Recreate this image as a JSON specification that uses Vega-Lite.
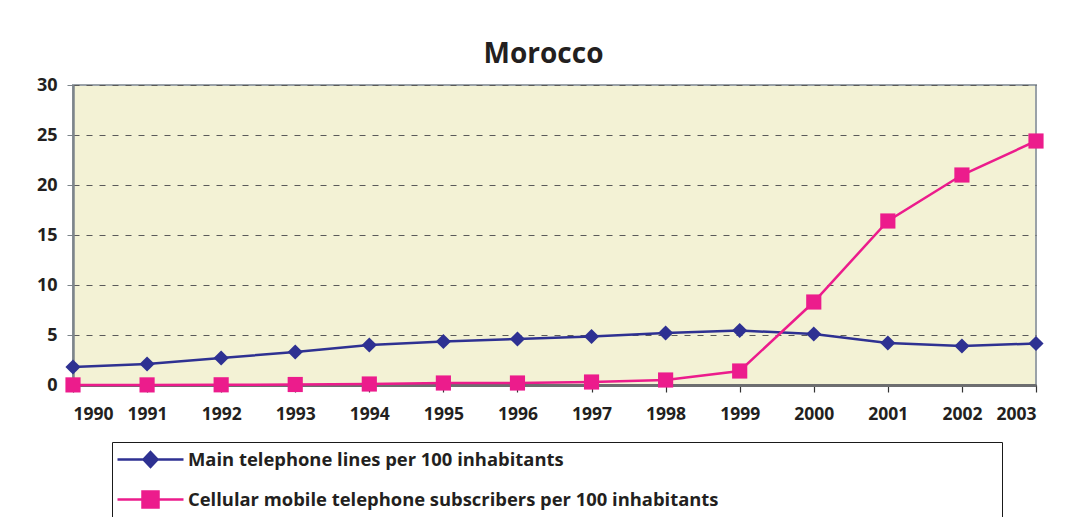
{
  "$schema": "https://vega.github.io/schema/vega-lite/v6.json",
  "width": 963,
  "height": 300,
  "autosize": "none",
  "padding": {"left": 73, "top": 85, "right": 30, "bottom": 132},
  "background": "white",
  "title": {
    "text": "Morocco",
    "font": "Open Sans",
    "fontSize": 28,
    "fontWeight": "bold",
    "color": "#231f20",
    "anchor": "middle",
    "dx": -11,
    "offset": 7
  },
  "config": {
    "font": "Open Sans",
    "view": {"fill": "#f3f2d5", "stroke": "#9aa2a8", "strokeWidth": 2}
  },
  "data": {
    "values": [
      {"year": 1990, "series": "Main telephone lines per 100 inhabitants", "value": 1.8},
      {"year": 1991, "series": "Main telephone lines per 100 inhabitants", "value": 2.1},
      {"year": 1992, "series": "Main telephone lines per 100 inhabitants", "value": 2.7},
      {"year": 1993, "series": "Main telephone lines per 100 inhabitants", "value": 3.3},
      {"year": 1994, "series": "Main telephone lines per 100 inhabitants", "value": 4.0},
      {"year": 1995, "series": "Main telephone lines per 100 inhabitants", "value": 4.35},
      {"year": 1996, "series": "Main telephone lines per 100 inhabitants", "value": 4.6},
      {"year": 1997, "series": "Main telephone lines per 100 inhabitants", "value": 4.85},
      {"year": 1998, "series": "Main telephone lines per 100 inhabitants", "value": 5.2},
      {"year": 1999, "series": "Main telephone lines per 100 inhabitants", "value": 5.45},
      {"year": 2000, "series": "Main telephone lines per 100 inhabitants", "value": 5.1},
      {"year": 2001, "series": "Main telephone lines per 100 inhabitants", "value": 4.2},
      {"year": 2002, "series": "Main telephone lines per 100 inhabitants", "value": 3.9},
      {"year": 2003, "series": "Main telephone lines per 100 inhabitants", "value": 4.15},
      {"year": 1990, "series": "Cellular mobile telephone subscribers per 100 inhabitants", "value": 0.01},
      {"year": 1991, "series": "Cellular mobile telephone subscribers per 100 inhabitants", "value": 0.01},
      {"year": 1992, "series": "Cellular mobile telephone subscribers per 100 inhabitants", "value": 0.02},
      {"year": 1993, "series": "Cellular mobile telephone subscribers per 100 inhabitants", "value": 0.05},
      {"year": 1994, "series": "Cellular mobile telephone subscribers per 100 inhabitants", "value": 0.1},
      {"year": 1995, "series": "Cellular mobile telephone subscribers per 100 inhabitants", "value": 0.2},
      {"year": 1996, "series": "Cellular mobile telephone subscribers per 100 inhabitants", "value": 0.2},
      {"year": 1997, "series": "Cellular mobile telephone subscribers per 100 inhabitants", "value": 0.3},
      {"year": 1998, "series": "Cellular mobile telephone subscribers per 100 inhabitants", "value": 0.5},
      {"year": 1999, "series": "Cellular mobile telephone subscribers per 100 inhabitants", "value": 1.4},
      {"year": 2000, "series": "Cellular mobile telephone subscribers per 100 inhabitants", "value": 8.3},
      {"year": 2001, "series": "Cellular mobile telephone subscribers per 100 inhabitants", "value": 16.4},
      {"year": 2002, "series": "Cellular mobile telephone subscribers per 100 inhabitants", "value": 21.0},
      {"year": 2003, "series": "Cellular mobile telephone subscribers per 100 inhabitants", "value": 24.4}
    ]
  },
  "encoding": {
    "x": {
      "field": "year",
      "type": "quantitative",
      "scale": {"domain": [1990, 2003], "nice": false, "zero": false},
      "axis": {
        "title": null,
        "values": [1990,1991,1992,1993,1994,1995,1996,1997,1998,1999,2000,2001,2002,2003],
        "format": "d",
        "grid": false,
        "domainColor": "#6d6e70",
        "domainWidth": 3,
        "tickColor": "#333333",
        "tickSize": 7,
        "tickWidth": 1.2,
        "labelFont": "Open Sans",
        "labelFontSize": 17.5,
        "labelFontWeight": "bold",
        "labelColor": "#231f20",
        "labelPadding": 13
      }
    },
    "y": {
      "field": "value",
      "type": "quantitative",
      "scale": {"domain": [0, 30], "nice": false},
      "axis": {
        "title": null,
        "values": [0, 5, 10, 15, 20, 25, 30],
        "grid": true,
        "gridColor": "#5a5a5a",
        "gridDash": [6, 7],
        "gridWidth": 1.2,
        "domainColor": "#7d858b",
        "domainWidth": 2.5,
        "tickColor": "#7d858b",
        "tickSize": 6,
        "labelFont": "Open Sans",
        "labelFontSize": 18,
        "labelFontWeight": "bold",
        "labelColor": "#231f20",
        "labelPadding": 10
      }
    }
  },
  "resolve": {"scale": {"shape": "independent", "fill": "independent", "stroke": "independent"}},
  "layer": [
    {
      "mark": {"type": "line", "strokeWidth": 2.5},
      "encoding": {
        "color": {
          "field": "series",
          "type": "nominal",
          "scale": {
            "domain": ["Main telephone lines per 100 inhabitants", "Cellular mobile telephone subscribers per 100 inhabitants"],
            "range": ["#2e3192", "#ec1c8c"]
          },
          "legend": null
        }
      }
    },
    {
      "mark": {"type": "point", "filled": true, "opacity": 1, "size": 230},
      "encoding": {
        "color": {
          "field": "series",
          "type": "nominal",
          "scale": {
            "domain": ["Main telephone lines per 100 inhabitants", "Cellular mobile telephone subscribers per 100 inhabitants"],
            "range": ["#2e3192", "#ec1c8c"]
          },
          "legend": null
        },
        "shape": {
          "field": "series",
          "type": "nominal",
          "scale": {
            "domain": ["Main telephone lines per 100 inhabitants", "Cellular mobile telephone subscribers per 100 inhabitants"],
            "range": ["diamond", "square"]
          },
          "legend": null
        }
      }
    },
    {
      "transform": [{"filter": "false"}],
      "mark": {"type": "point", "filled": true, "opacity": 1, "strokeWidth": 2.5},
      "encoding": {
        "fill": {
          "field": "series",
          "type": "nominal",
          "scale": {
            "domain": ["Main telephone lines per 100 inhabitants", "Cellular mobile telephone subscribers per 100 inhabitants"],
            "range": ["#2e3192", "#ec1c8c"]
          },
          "legend": {
            "orient": "none",
            "legendX": 39,
            "legendY": 357,
            "title": null,
            "strokeColor": "#1a1a1a",
            "padding": 6,
            "rowPadding": 14,
            "symbolSize": 400,
            "symbolStrokeWidth": 2.5,
            "labelOffset": 47,
            "labelLimit": 2000,
            "labelFont": "Open Sans",
            "labelFontSize": 18.4,
            "labelFontWeight": "bold",
            "labelColor": "#231f20",
            "labelExpr": "datum.label + '\u00a0\u00a0\u00a0\u00a0\u00a0\u00a0\u00a0\u00a0\u00a0\u00a0\u00a0\u00a0\u00a0\u00a0\u00a0\u00a0\u00a0\u00a0\u00a0\u00a0\u00a0\u00a0\u00a0\u00a0\u00a0\u00a0\u00a0\u00a0\u00a0\u00a0\u00a0\u00a0\u00a0\u00a0\u00a0\u00a0\u00a0\u00a0\u00a0\u00a0\u00a0\u00a0\u00a0\u00a0\u00a0\u00a0\u00a0\u00a0\u00a0\u00a0\u00a0\u00a0\u00a0\u00a0\u00a0\u00a0\u00a0\u00a0\u200b'"
          }
        },
        "stroke": {
          "field": "series",
          "type": "nominal",
          "scale": {
            "domain": ["Main telephone lines per 100 inhabitants", "Cellular mobile telephone subscribers per 100 inhabitants"],
            "range": ["#2e3192", "#ec1c8c"]
          },
          "legend": {
            "orient": "none",
            "legendX": 39,
            "legendY": 357,
            "title": null,
            "strokeColor": "#1a1a1a",
            "padding": 6,
            "rowPadding": 14,
            "symbolSize": 400,
            "symbolStrokeWidth": 2.5,
            "labelOffset": 47,
            "labelLimit": 2000,
            "labelFont": "Open Sans",
            "labelFontSize": 18.4,
            "labelFontWeight": "bold",
            "labelColor": "#231f20",
            "labelExpr": "datum.label + '\u00a0\u00a0\u00a0\u00a0\u00a0\u00a0\u00a0\u00a0\u00a0\u00a0\u00a0\u00a0\u00a0\u00a0\u00a0\u00a0\u00a0\u00a0\u00a0\u00a0\u00a0\u00a0\u00a0\u00a0\u00a0\u00a0\u00a0\u00a0\u00a0\u00a0\u00a0\u00a0\u00a0\u00a0\u00a0\u00a0\u00a0\u00a0\u00a0\u00a0\u00a0\u00a0\u00a0\u00a0\u00a0\u00a0\u00a0\u00a0\u00a0\u00a0\u00a0\u00a0\u00a0\u00a0\u00a0\u00a0\u00a0\u00a0\u200b'"
          }
        },
        "shape": {
          "field": "series",
          "type": "nominal",
          "scale": {
            "domain": ["Main telephone lines per 100 inhabitants", "Cellular mobile telephone subscribers per 100 inhabitants"],
            "range": ["M-1.2,0H5.4M2.1,-0.75L2.8,0L2.1,0.75L1.4,0Z", "M-1.2,0H5.4M1.3,-0.8H2.9V0.8H1.3Z"]
          },
          "legend": {
            "orient": "none",
            "legendX": 39,
            "legendY": 357,
            "title": null,
            "strokeColor": "#1a1a1a",
            "padding": 6,
            "rowPadding": 14,
            "symbolSize": 400,
            "symbolStrokeWidth": 2.5,
            "labelOffset": 47,
            "labelLimit": 2000,
            "labelFont": "Open Sans",
            "labelFontSize": 18.4,
            "labelFontWeight": "bold",
            "labelColor": "#231f20",
            "labelExpr": "datum.label + '\u00a0\u00a0\u00a0\u00a0\u00a0\u00a0\u00a0\u00a0\u00a0\u00a0\u00a0\u00a0\u00a0\u00a0\u00a0\u00a0\u00a0\u00a0\u00a0\u00a0\u00a0\u00a0\u00a0\u00a0\u00a0\u00a0\u00a0\u00a0\u00a0\u00a0\u00a0\u00a0\u00a0\u00a0\u00a0\u00a0\u00a0\u00a0\u00a0\u00a0\u00a0\u00a0\u00a0\u00a0\u00a0\u00a0\u00a0\u00a0\u00a0\u00a0\u00a0\u00a0\u00a0\u00a0\u00a0\u00a0\u00a0\u00a0\u200b'"
          }
        }
      }
    }
  ]
}
